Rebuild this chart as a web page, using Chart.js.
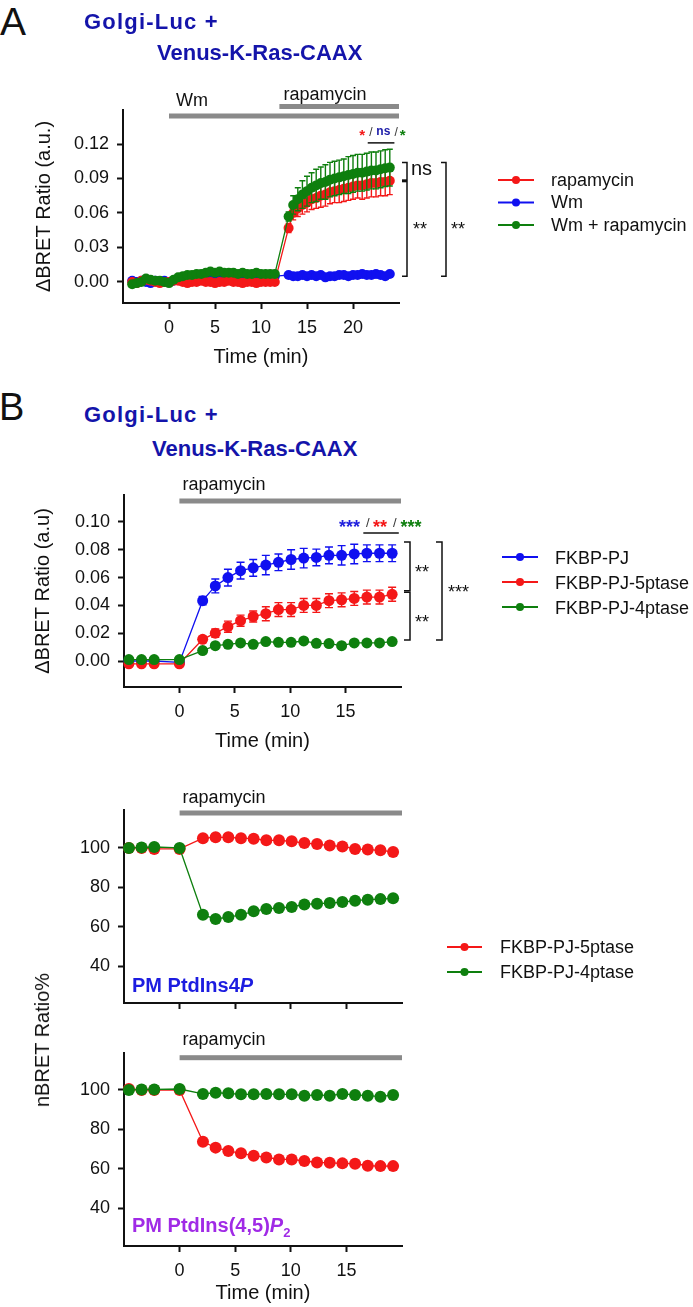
<!DOCTYPE html>
<html>
<head>
<meta charset="utf-8">
<title>BRET time courses</title>
<script src="https://cdn.jsdelivr.net/npm/chart.js@4.4.1/dist/chart.umd.min.js"></script>
<style>
  html, body { margin: 0; padding: 0; background: #fff; }
  #page { position: relative; width: 693px; height: 1307px; overflow: hidden; font-family: "Liberation Sans", Arial, sans-serif; color: #111; }
  #page canvas { position: absolute; left: 0; }
  .txt { position: absolute; white-space: nowrap; line-height: 1; }
  .ttl { font-weight: bold; font-size: 22px; color: #1414aa; }
  .wide { letter-spacing: 1.2px; }
</style>
</head>
<body>
<div id="page">
  <canvas id="cA" width="693" height="320" style="top:60px"></canvas>
  <canvas id="cB" width="693" height="290" style="top:470px"></canvas>
  <canvas id="cC" width="693" height="250" style="top:775px"></canvas>
  <canvas id="cD" width="693" height="282" style="top:1025px"></canvas>

  <div class="txt" style="left:0;top:2px;font-size:39px">A</div>
  <div class="txt ttl wide" style="left:84px;top:11px">Golgi-Luc +</div>
  <div class="txt ttl" style="left:157px;top:42px">Venus-K-Ras-CAAX</div>
  <div class="txt" style="left:-1px;top:388px;font-size:38px">B</div>
  <div class="txt ttl wide" style="left:84px;top:404px">Golgi-Luc +</div>
  <div class="txt ttl" style="left:152px;top:438px">Venus-K-Ras-CAAX</div>
  <div class="txt" style="left:42px;top:1040px;font-size:20px;transform:translate(-50%,-50%) rotate(-90deg)">nBRET Ratio%</div>
  <div class="txt" style="left:132px;top:975px;font-size:20px;font-weight:bold;color:#1c1ce0">PM PtdIns4<i>P</i></div>
  <div class="txt" style="left:132px;top:1215px;font-size:20px;font-weight:bold;color:#a02ae6">PM PtdIns(4,5)<i>P</i><span style="font-size:13px;position:relative;top:5px">2</span></div>
</div>

<script>
// ---- panel A : Golgi-Luc + Venus-K-Ras-CAAX, Wm / rapamycin ----
const timeA = [
  -4, -3.5, -3, -2.5, -2, -1.5, -1, -0.5, 0,
  0.5, 1, 1.5, 2, 2.5, 3, 3.5, 4, 4.5, 5, 5.5, 6, 6.5, 7, 7.5, 8, 8.5, 9, 9.5, 10, 10.5, 11, 11.5,
  13, 13.5, 14, 14.5, 15, 15.5, 16, 16.5, 17, 17.5, 18, 18.5, 19, 19.5, 20, 20.5, 21, 21.5, 22, 22.5, 23, 23.5, 24
];
const rapaA = [
  0.000, -0.001, 0.001, 0.002, 0.001, 0.000, -0.001, 0.000, 0.000,
  0.001, 0.001, 0.000, -0.001, 0.000, 0.000, 0.001, 0.000, 0.000, -0.001, 0.000, 0.000, 0.001, 0.000, 0.000, -0.001, 0.000, 0.000, -0.001, 0.000, 0.000, 0.000, 0.000,
  0.047, 0.060, 0.064, 0.067, 0.069, 0.072, 0.073, 0.075, 0.076, 0.078, 0.079, 0.080, 0.081, 0.082, 0.083, 0.084, 0.084, 0.085, 0.086, 0.086, 0.087, 0.087, 0.088
];
const rapaErrA = [
  0, 0, 0, 0, 0, 0, 0, 0, 0,
  0, 0, 0, 0, 0, 0, 0, 0, 0, 0, 0, 0, 0, 0, 0, 0, 0, 0, 0, 0, 0, 0, 0,
  0.004, 0.006, 0.007, 0.008, 0.008, 0.009, 0.009, 0.010, 0.010, 0.010, 0.010, 0.011, 0.011, 0.011, 0.011, 0.011, 0.012, 0.012, 0.012, 0.012, 0.012, 0.012, 0.012
];
const wmA = [
  0.001, 0.000, 0.001, 0.000, -0.001, 0.001, 0.000, 0.001, 0.000,
  0.001, 0.002, 0.003, 0.003, 0.004, 0.004, 0.004, 0.005, 0.004, 0.004, 0.005, 0.004, 0.004, 0.005, 0.004, 0.004, 0.005, 0.004, 0.004, 0.005, 0.005, 0.004, 0.005,
  0.006, 0.005, 0.005, 0.006, 0.005, 0.006, 0.005, 0.006, 0.004, 0.005, 0.005, 0.006, 0.006, 0.005, 0.006, 0.006, 0.007, 0.006, 0.006, 0.007, 0.006, 0.005, 0.007
];
const wmRapaA = [
  -0.002, -0.001, 0.000, 0.003, 0.002, 0.001, 0.001, 0.000, -0.001,
  0.002, 0.004, 0.005, 0.006, 0.006, 0.007, 0.007, 0.008, 0.009, 0.008, 0.009, 0.008, 0.008, 0.008, 0.007, 0.008, 0.007, 0.007, 0.008, 0.007, 0.007, 0.007, 0.007,
  0.057, 0.067, 0.072, 0.076, 0.079, 0.082, 0.084, 0.086, 0.087, 0.089, 0.090, 0.091, 0.092, 0.093, 0.094, 0.095, 0.095, 0.096, 0.097, 0.097, 0.098, 0.099, 0.0995
];
const wmRapaErrA = [
  0, 0, 0, 0, 0, 0, 0, 0, 0,
  0, 0, 0, 0, 0, 0, 0, 0, 0, 0, 0, 0, 0, 0, 0, 0, 0, 0, 0, 0, 0, 0, 0,
  0.004, 0.008, 0.010, 0.012, 0.013, 0.013, 0.014, 0.014, 0.015, 0.015, 0.015, 0.015, 0.015, 0.016, 0.016, 0.016, 0.016, 0.016, 0.016, 0.016, 0.016, 0.016, 0.016
];
const xTicksA = [0, 5, 10, 15, 20];
const yTicksA = [0, 0.03, 0.06, 0.09, 0.12];
const treatA = [['Wm', 0, 25], ['rapamycin', 12, 25]];

// ---- panel B and the two PM panels share one time base ----
const timeB = [-4.56, -3.42, -2.28, 0, 2.1, 3.24, 4.38, 5.52, 6.66, 7.8, 8.94, 10.08, 11.22, 12.36, 13.5, 14.64, 15.78, 16.92, 18.06, 19.2];
const pjB = [0.000, 0.000, 0.000, -0.001, 0.0434, 0.054, 0.060, 0.065, 0.067, 0.069, 0.071, 0.073, 0.074, 0.0745, 0.076, 0.076, 0.077, 0.0775, 0.0775, 0.0775];
const pjErrB = [0, 0, 0, 0, 0.003, 0.005, 0.006, 0.006, 0.006, 0.007, 0.006, 0.007, 0.007, 0.006, 0.006, 0.007, 0.007, 0.006, 0.006, 0.006];
const p5B = [-0.002, -0.002, -0.002, -0.002, 0.0156, 0.020, 0.0247, 0.029, 0.032, 0.034, 0.037, 0.037, 0.040, 0.040, 0.0434, 0.044, 0.045, 0.046, 0.046, 0.048];
const p5ErrB = [0, 0, 0, 0, 0.002, 0.003, 0.004, 0.004, 0.004, 0.005, 0.005, 0.005, 0.005, 0.005, 0.005, 0.005, 0.005, 0.005, 0.005, 0.005];
const p4B = [0.001, 0.001, 0.001, 0.001, 0.0075, 0.011, 0.012, 0.013, 0.012, 0.014, 0.0134, 0.0134, 0.0144, 0.0127, 0.0125, 0.011, 0.013, 0.013, 0.013, 0.014];
const xTicksB = [0, 5, 10, 15];
const yTicksB = [0, 0.02, 0.04, 0.06, 0.08, 0.10];
const treatB = [['rapamycin', 0, 20]];

const p5C = [100, 100, 99.5, 99.5, 105, 105.4, 105.4, 105, 104.7, 103.9, 103.9, 103.4, 102.5, 102, 101.2, 100.8, 99.5, 99.2, 98.8, 98];
const p4C = [100, 100.3, 100.5, 100, 66, 63.9, 64.9, 66, 67.8, 69, 69.5, 70, 71.3, 71.7, 72, 72.5, 73.2, 73.7, 74, 74.4];
const p5D = [100.5, 100, 100, 100, 73.7, 70.7, 69, 67.8, 66.6, 65.7, 64.7, 64.7, 63.9, 63.2, 63, 62.7, 62.5, 61.5, 61.3, 61.3];
const p4D = [100, 100.3, 100.3, 100.5, 98, 98.6, 98.3, 97.8, 97.8, 98, 97.8, 97.8, 97.1, 97.5, 97.1, 98, 97.5, 97.1, 96.6, 97.5];
const yTicksPM = [40, 60, 80, 100];

const INK = '#111';
const FONT = '"Liberation Sans", Arial, Helvetica, sans-serif';
const RED = '#f41818', BLUE = '#1010f0', GREEN = '#0e7f0e', GRAY = '#8a8a8a';

// error bars go under each dataset's own points
const errorBars = {
  id: 'errorBars',
  beforeDatasetDraw(chart, args) {
    const ds = chart.data.datasets[args.index];
    if (!ds.errors) return;
    const ys = chart.scales.y, ctx = chart.ctx, cap = ds.errCap || 3;
    ctx.save();
    ctx.strokeStyle = ds.borderColor;
    ctx.lineWidth = 1.4;
    args.meta.data.forEach((pt, i) => {
      const e = ds.errors[i];
      if (!e) return;
      const v = ds.data[i].y;
      const top = ys.getPixelForValue(v + e), bot = ys.getPixelForValue(v - e);
      ctx.beginPath();
      ctx.moveTo(pt.x, top); ctx.lineTo(pt.x, bot);
      ctx.moveTo(pt.x - cap, top); ctx.lineTo(pt.x + cap, top);
      ctx.moveTo(pt.x - cap, bot); ctx.lineTo(pt.x + cap, bot);
      ctx.stroke();
    });
    ctx.restore();
  }
};
Chart.register(errorBars);

// treatment bars, legend, brackets and star labels
function marksPlugin(cfg) {
  return {
    id: 'marks',
    afterDraw(chart) {
      const { ctx, chartArea: ca } = chart;
      const px = t => chart.scales.x.getPixelForValue(t);
      const py = v => chart.scales.y.getPixelForValue(v);
      ctx.save();
      (cfg.treat || []).forEach(([text, from, to], k) => {
        const g = cfg.treatGeo[k];
        const x1 = px(from), x2 = px(to);
        ctx.fillStyle = GRAY;
        ctx.fillRect(x1, g.y - 2.5, x2 - x1, 5);
        ctx.fillStyle = INK;
        ctx.font = '18px ' + FONT;
        ctx.textAlign = 'left';
        ctx.textBaseline = 'alphabetic';
        ctx.fillText(text, x1 + g.dx, g.ty);
      });
      const lg = cfg.legend;
      if (lg) {
        lg.rows.forEach((idx, k) => {
          const ds = chart.data.datasets[idx];
          const yy = lg.y + k * lg.gap;
          ctx.strokeStyle = ds.borderColor;
          ctx.lineWidth = 2;
          ctx.beginPath(); ctx.moveTo(lg.x1, yy); ctx.lineTo(lg.x2, yy); ctx.stroke();
          ctx.fillStyle = ds.borderColor;
          ctx.beginPath(); ctx.arc((lg.x1 + lg.x2) / 2, yy, 4, 0, Math.PI * 2); ctx.fill();
          ctx.fillStyle = INK;
          ctx.font = '18px ' + FONT;
          ctx.textAlign = 'left';
          ctx.textBaseline = 'middle';
          ctx.fillText(ds.label, lg.tx, yy + (lg.dy || 0));
        });
      }
      ctx.strokeStyle = INK;
      ctx.lineWidth = 1.5;
      (cfg.brackets || []).forEach(b => {
        const xx = ca.right + b.dx;
        const ys = b.at.map(py);
        ctx.beginPath();
        ctx.moveTo(xx - b.tick, ys[0]);
        ctx.lineTo(xx, ys[0]);
        ctx.lineTo(xx, ys[ys.length - 1]);
        ctx.lineTo(xx - b.tick, ys[ys.length - 1]);
        ctx.stroke();
        ys.slice(1, -1).forEach(y => {
          ctx.save(); ctx.lineWidth = 3;
          ctx.beginPath(); ctx.moveTo(xx - b.tick, y); ctx.lineTo(xx, y); ctx.stroke();
          ctx.restore();
        });
      });
      (cfg.rules || []).forEach(r => {
        ctx.beginPath(); ctx.moveTo(px(r.t1), py(r.v)); ctx.lineTo(px(r.t2), py(r.v)); ctx.stroke();
      });
      (cfg.texts || []).forEach(t => {
        const off = t.kind === 'ast' ? 0.22 * t.size : t.kind === 'low' ? -0.09 * t.size : 0;
        ctx.fillStyle = t.color || INK;
        ctx.font = (t.bold ? 'bold ' : '') + t.size + 'px ' + FONT;
        ctx.textAlign = t.t != null ? 'center' : 'left';
        ctx.textBaseline = 'middle';
        ctx.fillText(t.s, t.t != null ? px(t.t) : ca.right + t.dx, py(t.v) + off);
      });
      ctx.restore();
    }
  };
}

function series(label, xs, ys, color, radius, errs, cap, order) {
  return {
    label,
    data: xs.map((x, i) => ({ x, y: ys[i] })),
    errors: errs, errCap: cap,
    borderColor: color, backgroundColor: color,
    pointBackgroundColor: color, pointBorderColor: color,
    pointRadius: radius, pointBorderWidth: 0, borderWidth: 1.3,
    tension: 0, clip: false, order
  };
}

function timeAxis(min, max, ticks, labels, height, titlePad) {
  return {
    type: 'linear', position: 'bottom', min, max,
    afterBuildTicks: s => { s.ticks = ticks.map(v => ({ value: v })); },
    afterFit: s => { s.height = height; s.paddingLeft = 0; s.paddingRight = 0; },
    ticks: { display: labels, color: INK, font: { family: FONT, size: 18 }, padding: 8, maxRotation: 0, autoSkip: false, callback: v => String(v) },
    grid: { drawOnChartArea: false, drawTicks: true, tickLength: 6, tickWidth: 2, tickColor: INK, color: INK },
    border: { display: true, color: INK, width: 2 },
    title: { display: labels, text: 'Time (min)', color: INK, font: { family: FONT, size: 20 }, padding: { top: 0, bottom: titlePad } }
  };
}

function valueAxis(min, max, ticks, digits, width, title, titlePad) {
  return {
    type: 'linear', position: 'left', min, max,
    afterBuildTicks: s => { s.ticks = ticks.map(v => ({ value: v })); },
    afterFit: s => { s.width = width; s.paddingTop = 0; s.paddingBottom = 0; },
    ticks: { color: INK, font: { family: FONT, size: 18 }, padding: 8, autoSkip: false, callback: v => Number(v).toFixed(digits) },
    grid: { drawOnChartArea: false, drawTicks: true, tickLength: 6, tickWidth: 2, tickColor: INK, color: INK },
    border: { display: true, color: INK, width: 2 },
    title: { display: !!title, text: title || '', color: INK, font: { family: FONT, size: 20 }, padding: { top: titlePad || 0, bottom: 0 } }
  };
}

function buildChart(id, o) {
  return new Chart(document.getElementById(id), {
    type: 'line',
    data: { datasets: o.datasets },
    options: {
      responsive: false, animation: false, events: [],
      layout: { autoPadding: false, padding: { left: 0, top: o.top, right: o.right, bottom: 0 } },
      plugins: { legend: { display: false }, tooltip: { enabled: false } },
      scales: { x: o.x, y: o.y }
    },
    plugins: [marksPlugin(o.marks)]
  });
}

// Panel A
buildChart('cA', {
  top: 50, right: 294,
  datasets: [
    series('rapamycin', timeA, rapaA, RED, 5, rapaErrA, 3, 1),
    series('Wm', timeA, wmA, BLUE, 5, null, 3, 2),
    series('Wm + rapamycin', timeA, wmRapaA, GREEN, 5, wmRapaErrA, 3, 0)
  ],
  x: timeAxis(-5, 25, xTicksA, true, 77, 11),
  y: valueAxis(-0.0183, 0.1496, yTicksA, 2, 123, '\u0394BRET Ratio (a.u.)', 32),
  marks: {
    treat: treatA,
    treatGeo: [{ y: 56, ty: 46, dx: 7 }, { y: 46.5, ty: 39.5, dx: 4 }],
    legend: { x1: 498, x2: 534, tx: 551, y: 120, gap: 22.5, rows: [0, 1, 2], dy: 1 },
    brackets: [
      { dx: 8, tick: 5, at: [0.104, 0.088, 0.005] },
      { dx: 47, tick: 5, at: [0.104, 0.005] }
    ],
    rules: [{ t1: 21.6, t2: 24.5, v: 0.121 }],
    texts: [
      { s: '*', t: 21.0, v: 0.1296, size: 15, bold: true, kind: 'ast', color: RED },
      { s: '/', t: 21.95, v: 0.1296, size: 12, color: '#333' },
      { s: 'ns', t: 23.3, v: 0.1296, size: 12, bold: true, kind: 'low', color: '#1a1aa8' },
      { s: '/', t: 24.7, v: 0.1296, size: 12, color: '#333' },
      { s: '*', t: 25.4, v: 0.1296, size: 15, bold: true, kind: 'ast', color: GREEN },
      { s: 'ns', dx: 12, v: 0.0966, size: 20, kind: 'low' },
      { s: '**', dx: 14, v: 0.0487, size: 18, kind: 'ast' },
      { s: '**', dx: 52, v: 0.0487, size: 18, kind: 'ast' }
    ]
  }
});

// Panel B
buildChart('cB', {
  top: 25, right: 292,
  datasets: [
    series('FKBP-PJ', timeB, pjB, BLUE, 5.5, pjErrB, 4, 2),
    series('FKBP-PJ-5ptase', timeB, p5B, RED, 5.5, p5ErrB, 4, 1),
    series('FKBP-PJ-4ptase', timeB, p4B, GREEN, 5.5, null, 4, 0)
  ],
  x: timeAxis(-5, 20, xTicksB, true, 73, 7),
  y: valueAxis(-0.0187, 0.1194, yTicksB, 2, 124, '\u0394BRET Ratio (a.u)', 31.5),
  marks: {
    treat: treatB,
    treatGeo: [{ y: 31, ty: 20, dx: 3 }],
    legend: { x1: 502, x2: 538, tx: 555, y: 87, gap: 25, rows: [0, 1, 2], dy: 2 },
    brackets: [
      { dx: 9, tick: 6, at: [0.0856, 0.0505] },
      { dx: 9, tick: 6, at: [0.0495, 0.0151] },
      { dx: 41, tick: 6, at: [0.0856, 0.0151] }
    ],
    rules: [{ t1: 16.6, t2: 19.8, v: 0.0921 }],
    texts: [
      { s: '***', t: 15.35, v: 0.0986, size: 18, bold: true, kind: 'ast', color: '#2222dd' },
      { s: '/', t: 17.0, v: 0.0986, size: 13, color: '#333' },
      { s: '**', t: 18.1, v: 0.0986, size: 18, bold: true, kind: 'ast', color: RED },
      { s: '/', t: 19.45, v: 0.0986, size: 13, color: '#333' },
      { s: '***', t: 20.9, v: 0.0986, size: 18, bold: true, kind: 'ast', color: GREEN },
      { s: '**', dx: 14, v: 0.0662, size: 18, kind: 'ast' },
      { s: '**', dx: 14, v: 0.0302, size: 18, kind: 'ast' },
      { s: '***', dx: 47, v: 0.0518, size: 18, kind: 'ast' }
    ]
  }
});

// Panel C: PM PtdIns4P
buildChart('cC', {
  top: 35, right: 291,
  datasets: [
    series('FKBP-PJ-5ptase', timeB, p5C, RED, 6, null, 4, 1),
    series('FKBP-PJ-4ptase', timeB, p4C, GREEN, 6, null, 4, 0)
  ],
  x: timeAxis(-5, 20, xTicksB, false, 22, 0),
  y: valueAxis(21.2, 119.3, yTicksPM, 0, 124, '', 0),
  marks: {
    treat: treatB,
    treatGeo: [{ y: 38, ty: 28, dx: 3 }],
    legend: { x1: 447, x2: 482, tx: 500, y: 172, gap: 25, rows: [0, 1], dy: 1 }
  }
});

// Panel D: PM PtdIns(4,5)P2
buildChart('cD', {
  top: 28, right: 291,
  datasets: [
    series('FKBP-PJ-5ptase', timeB, p5D, RED, 6, null, 4, 1),
    series('FKBP-PJ-4ptase', timeB, p4D, GREEN, 6, null, 4, 0)
  ],
  x: timeAxis(-5, 20, xTicksB, true, 61, 2),
  y: valueAxis(20.7, 118.8, yTicksPM, 0, 124, '', 0),
  marks: {
    treat: treatB,
    treatGeo: [{ y: 32.7, ty: 20, dx: 3 }]
  }
});
</script>
</body>
</html>
